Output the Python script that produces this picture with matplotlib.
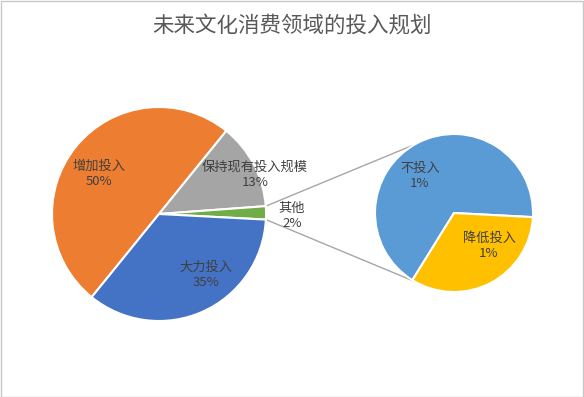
import numpy as np
import matplotlib
matplotlib.use("Agg")
import matplotlib.pyplot as plt
from matplotlib.patches import Rectangle

plt.rcParams['font.family'] = ['Noto Sans CJK SC', 'DejaVu Sans']

title = "未来文化消费领域的投入规划"

main_labels = ["增加投入", "保持现有投入规模", "其他", "大力投入"]
main_values = [50, 13, 2, 35]
main_pct = ["50%", "13%", "2%", "35%"]
main_colors = ["#ED7D31", "#A5A5A5", "#70AD47", "#4472C4"]

sub_labels = ["不投入", "降低投入"]
sub_values = [1.34, 0.66]
sub_pct = ["1%", "1%"]
sub_colors = ["#5B9BD5", "#FFC000"]

W, H = 584, 397
fig = plt.figure(figsize=(W / 100, H / 100), dpi=100)
ax = fig.add_axes([0, 0, 1, 1])

def Y(y):
    return H - y

main_c = (159, Y(214))
main_r = 107
sub_c = (454, Y(213))
sub_r = 79

explode = [0, 0, 0.03, 0]
wedges, _ = ax.pie(main_values, colors=main_colors, startangle=231, counterclock=False,
                   radius=main_r, center=main_c, explode=explode,
                   wedgeprops=dict(edgecolor='white', linewidth=1.5))
sw, _ = ax.pie(sub_values, colors=sub_colors, startangle=-3, counterclock=True,
               radius=sub_r, center=sub_c,
               wedgeprops=dict(edgecolor='white', linewidth=1.5))

ax.set_xlim(0, W)
ax.set_ylim(0, H)
ax.set_aspect('equal')
ax.axis('off')

# connector lines from the "其他" wedge to the secondary pie
g = wedges[2]
gc = g.center
for th, sa in [(g.theta2, 120), (g.theta1, 240)]:
    x0 = gc[0] + g.r * np.cos(np.radians(th))
    y0 = gc[1] + g.r * np.sin(np.radians(th))
    x1 = sub_c[0] + sub_r * np.cos(np.radians(sa))
    y1 = sub_c[1] + sub_r * np.sin(np.radians(sa))
    ax.plot([x0, x1], [y0, y1], color='#A6A6A6', lw=1, zorder=0.5)

main_pos = [(99, 174), (255, 175), (292, 216), (206, 275)]
for lab, pct, (x, y) in zip(main_labels, main_pct, main_pos):
    ax.text(x, Y(y), f"{lab}\n{pct}", ha='center', va='center', fontsize=9.5,
            color='#404040', linespacing=1.25)

sub_pos = [(420, 176), (489, 246)]
for lab, pct, (x, y) in zip(sub_labels, sub_pct, sub_pos):
    ax.text(x, Y(y), f"{lab}\n{pct}", ha='center', va='center', fontsize=9.5,
            color='#404040', linespacing=1.25)

ax.text(W / 2, Y(26), title, ha='center', va='center', fontsize=15.5, color='#595959')

fig.patches.append(Rectangle((0.5 / W, 0.5 / H), 1 - 1.5 / W, 1 - 1.5 / H, transform=fig.transFigure,
                             fill=False, edgecolor='#C8C8C8', lw=1))

fig.savefig("out.png", dpi=100)
